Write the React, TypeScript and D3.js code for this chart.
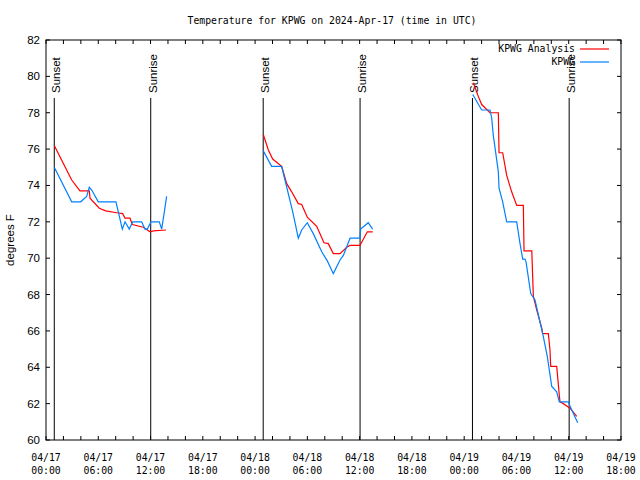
import React from 'react';
import * as d3 from 'd3';

// times are hours after 2024-04-17 00:00 UTC, values in degrees F
const analysis1: [number, number][] = [
  [0.95, 76.2], [2.95, 74.3], [3.9, 73.7], [4.97, 73.7], [5.05, 73.3], [6.12, 72.75],
  [6.85, 72.6], [8.12, 72.5], [8.8, 72.45], [9.07, 72.2], [9.64, 72.2], [9.91, 71.85],
  [11.17, 71.7], [11.94, 71.45], [12.32, 71.5], [13.77, 71.55],
];
const analysis2: [number, number][] = [
  [24.94, 76.8], [25.52, 75.95], [26.02, 75.45], [27.05, 75.05], [27.63, 74.1], [28.2, 73.65],
  [28.96, 73.0], [29.35, 72.95], [29.99, 72.25], [31.07, 71.75], [31.91, 70.85], [32.4, 70.8],
  [32.98, 70.25], [33.75, 70.25], [34.52, 70.6], [34.9, 70.7], [36.04, 70.7], [36.88, 71.45],
  [37.5, 71.45],
];
const analysis3: [number, number][] = [
  [49.05, 79.65], [49.62, 78.9], [50.01, 78.45], [50.96, 78.0], [51.92, 78.0], [52.0, 75.8],
  [52.42, 75.8], [52.88, 74.55], [53.45, 73.65], [54.03, 72.9], [54.79, 72.9], [54.87, 70.4],
  [55.76, 70.4], [55.94, 67.9], [56.33, 67.15], [56.9, 66.15], [57.01, 65.85], [57.66, 65.85],
  [57.85, 64.95], [57.93, 64.05], [58.62, 64.05], [58.8, 63.1], [58.92, 62.45], [59.0, 62.1],
  [59.38, 62.0], [60.15, 61.75], [60.92, 61.3],
];
const obs1: [number, number][] = [
  [0.95, 75.0], [2.95, 73.1], [3.98, 73.1], [4.67, 73.4], [4.97, 73.9], [5.25, 73.75],
  [6.0, 73.1], [8.03, 73.1], [8.3, 72.55], [8.76, 71.6], [9.07, 72.0], [9.56, 71.6],
  [9.95, 72.0], [10.98, 72.0], [11.36, 71.6], [11.63, 71.6], [12.05, 72.0], [13.0, 72.0],
  [13.28, 71.6], [13.85, 73.4],
];
const obs2: [number, number][] = [
  [24.94, 75.9], [25.9, 75.05], [27.05, 75.05], [27.43, 74.3], [28.32, 72.55], [28.96, 71.1],
  [29.35, 71.55], [29.99, 71.95], [30.68, 71.35], [31.65, 70.35], [32.29, 69.85], [32.98, 69.15],
  [33.75, 69.9], [34.13, 70.15], [34.9, 71.1], [36.04, 71.1], [36.12, 71.6], [36.99, 71.95],
  [37.5, 71.6],
];
const obs3: [number, number][] = [
  [48.98, 79.0], [50.01, 78.15], [50.96, 78.15], [51.16, 77.7], [51.34, 76.75], [51.65, 75.7],
  [51.92, 74.75], [52.0, 73.85], [52.42, 73.1], [52.88, 72.0], [54.03, 72.0], [54.41, 70.8],
  [54.72, 69.95], [54.98, 69.95], [55.1, 69.8], [55.64, 68.05], [56.13, 67.7], [57.08, 65.7],
  [57.54, 64.6], [58.05, 62.95], [58.62, 62.65], [58.92, 62.1], [59.95, 62.1], [60.15, 61.85],
  [61.03, 60.95],
];
const sunsets = [0.95, 24.93, 48.95];
const sunrises = [12.02, 36.05, 60.05];
const yTicks = [60, 62, 64, 66, 68, 70, 72, 74, 76, 78, 80, 82];

const W = 640;
const H = 480;
const left = 46;
const right = 621;
const top = 40;
const bottom = 440;
const mono = '"DejaVu Sans Mono", monospace';
const sans = '"Liberation Sans", Arial, sans-serif';

const t0 = Date.UTC(2024, 3, 17);
const toDate = (h: number) => new Date(t0 + h * 3600 * 1000);

export default function App() {
  const x = d3.scaleUtc().domain([toDate(0), toDate(66)]).range([left, right]);
  const y = d3.scaleLinear().domain([60, 82]).range([bottom, top]);

  const line = d3.line<[number, number]>()
    .x(d => x(toDate(d[0])))
    .y(d => y(d[1]));

  const minorTicks = d3.utcHour.every(2)!.range(toDate(0), toDate(66.01));
  const labelTicks = d3.utcHour.every(6)!.range(toDate(0), toDate(66.01));
  const fmtDay = d3.utcFormat('%m/%d');
  const fmtTime = d3.utcFormat('%H:%M');

  return (
    <div style={{ position: 'fixed', left: 0, top: 0 }}>
      <svg width={W} height={H} style={{ display: 'block', background: '#fff' }}>
        <text x={332} y={24} textAnchor="middle" fontFamily={mono} fontSize={9.8} fill="#000">
          Temperature for KPWG on 2024-Apr-17 (time in UTC)
        </text>

        {/* ticks */}
        {minorTicks.map((d, i) => (
          <g key={'xt' + i}>
            <line x1={x(d)} x2={x(d)} y1={bottom} y2={bottom - 4} stroke="#000" />
            <line x1={x(d)} x2={x(d)} y1={top} y2={top + 4} stroke="#000" />
          </g>
        ))}
        {yTicks.map(v => (
          <g key={'yt' + v}>
            <line x1={left} x2={left + 4} y1={y(v)} y2={y(v)} stroke="#000" />
            <line x1={right} x2={right - 4} y1={y(v)} y2={y(v)} stroke="#000" />
            <text x={left - 6} y={y(v)} dy="0.35em" textAnchor="end" fontFamily={sans} fontSize={11.5} fill="#000">
              {v}
            </text>
          </g>
        ))}
        {labelTicks.map((d, i) => (
          <text key={'xl' + i} x={x(d)} textAnchor="middle" fontFamily={mono} fontSize={9.8} fill="#000">
            <tspan x={x(d)} y={461}>{fmtDay(d)}</tspan>
            <tspan x={x(d)} y={474}>{fmtTime(d)}</tspan>
          </text>
        ))}

        <text transform={`translate(14, ${(top + bottom) / 2}) rotate(-90)`} textAnchor="middle" fontFamily={sans} fontSize={11.5} fill="#000">
          degrees F
        </text>

        {/* sun lines */}
        {sunsets.map((h, i) => (
          <g key={'ss' + i}>
            <line x1={x(toDate(h))} x2={x(toDate(h))} y1={98} y2={bottom} stroke="#000" />
            <text transform={`translate(${x(toDate(h)) + 2}, 93) rotate(-90)`} dy="0.35em" fontFamily={sans} fontSize={11.5} fill="#000">
              Sunset
            </text>
          </g>
        ))}
        {sunrises.map((h, i) => (
          <g key={'sr' + i}>
            <line x1={x(toDate(h))} x2={x(toDate(h))} y1={98} y2={bottom} stroke="#000" />
            <text transform={`translate(${x(toDate(h)) + 2}, 93) rotate(-90)`} dy="0.35em" fontFamily={sans} fontSize={11.5} fill="#000">
              Sunrise
            </text>
          </g>
        ))}

        {/* series */}
        {[analysis1, analysis2, analysis3].map((s, i) => (
          <path key={'a' + i} d={line(s) || ''} fill="none" stroke="#ff0000" strokeWidth={1.2} />
        ))}
        {[obs1, obs2, obs3].map((s, i) => (
          <path key={'o' + i} d={line(s) || ''} fill="none" stroke="#0080ff" strokeWidth={1.2} />
        ))}

        {/* legend */}
        <text x={575} y={49} dy="0.35em" textAnchor="end" fontFamily={mono} fontSize={9.8} fill="#000">KPWG Analysis</text>
        <line x1={580} x2={609} y1={49} y2={49} stroke="#ff0000" strokeWidth={1.2} />
        <text x={575} y={62} dy="0.35em" textAnchor="end" fontFamily={mono} fontSize={9.8} fill="#000">KPWG</text>
        <line x1={580} x2={609} y1={62} y2={62} stroke="#0080ff" strokeWidth={1.2} />

        <rect x={left} y={top} width={right - left} height={bottom - top} fill="none" stroke="#000" />
      </svg>
    </div>
  );
}
